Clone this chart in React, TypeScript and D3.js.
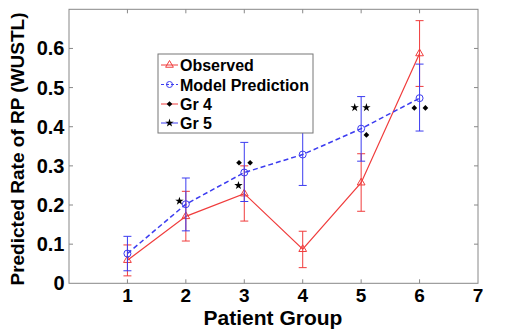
import * as d3 from "d3";

// Patient groups on the x axis
const groups = [1, 2, 3, 4, 5, 6];

// Observed rate with error bounds
const observed = [0.059, 0.171, 0.229, 0.087, 0.257, 0.587];
const observedLow = [0.019, 0.108, 0.159, 0.04, 0.184, 0.503];
const observedHigh = [0.098, 0.235, 0.3, 0.133, 0.331, 0.671];

// Model prediction with error bounds
const predicted = [0.076, 0.202, 0.283, 0.329, 0.395, 0.473];
const predictedLow = [0.032, 0.134, 0.209, 0.25, 0.312, 0.389];
const predictedHigh = [0.12, 0.269, 0.36, 0.408, 0.477, 0.56];

// significance markers
const gr4X = [2.91, 3.1, 5.09, 5.91, 6.1];
const gr4Y = [0.308, 0.308, 0.379, 0.448, 0.448];
const gr5X = [1.89, 2.9, 4.89, 5.09];
const gr5Y = [0.21, 0.25, 0.449, 0.449];

const xTicks = [1, 2, 3, 4, 5, 6, 7];
const yTicks = [0, 0.1, 0.2, 0.3, 0.4, 0.5, 0.6];
const legendLabels = ["Observed", "Model Prediction", "Gr 4", "Gr 5"];

const RED = "#f03c3c";
const BLUE = "#3c3cf0";
const FONT = "Liberation Sans, Arial, sans-serif";

const width = 505;
const height = 329;

export default function App() {
  const x = d3.scaleLinear().domain([0, 7]).range([69, 478]);
  const y = d3.scaleLinear().domain([0, 0.7]).range([283.3, 9.3]);

  const line = d3
    .line<number>()
    .x((d, i) => x(groups[i]))
    .y((d) => y(d));

  const star = d3.symbol().type(d3.symbolStar).size(22)();
  const diamond = d3.symbol().type(d3.symbolSquare).size(16)();
  const triangle = d3.symbol().type(d3.symbolTriangle).size(26)();

  const tick = 4;
  const cap = 4;

  const errorBars = (lo: number[], hi: number[], color: string) =>
    groups.map((g, i) => (
      <g key={i} stroke={color} strokeWidth={1}>
        <line x1={x(g)} x2={x(g)} y1={y(lo[i])} y2={y(hi[i])} />
        <line x1={x(g) - cap} x2={x(g) + cap} y1={y(lo[i])} y2={y(lo[i])} />
        <line x1={x(g) - cap} x2={x(g) + cap} y1={y(hi[i])} y2={y(hi[i])} />
      </g>
    ));

  const legendX = 158;
  const legendY = 54;
  const rowY = [65, 84.5, 104, 123];

  return (
    <svg
      width={width}
      height={height}
      style={{ position: "absolute", left: 0, top: 0, background: "#fff" }}
      fontFamily={FONT}
    >
      {/* axes box */}
      <rect x={69} y={9.3} width={409} height={274} fill="none" stroke="#888" strokeWidth={1} />
      {xTicks.slice(0, 6).map((t) => (
        <g key={t} stroke="#888">
          <line x1={x(t)} x2={x(t)} y1={y(0)} y2={y(0) - tick} />
          <line x1={x(t)} x2={x(t)} y1={y(0.7)} y2={y(0.7) + tick} />
        </g>
      ))}
      {yTicks.slice(1).map((t) => (
        <g key={t} stroke="#888">
          <line x1={x(0)} x2={x(0) + tick} y1={y(t)} y2={y(t)} />
          <line x1={x(7)} x2={x(7) - tick} y1={y(t)} y2={y(t)} />
        </g>
      ))}

      {/* tick labels */}
      {xTicks.map((t) => (
        <text key={t} x={x(t)} y={302} textAnchor="middle" fontSize={19} fontWeight="bold">
          {t}
        </text>
      ))}
      {yTicks.map((t) => (
        <text key={t} x={64.5} y={y(t) + 7} textAnchor="end" fontSize={20} fontWeight="bold">
          {t === 0 ? "0" : t.toFixed(1)}
        </text>
      ))}

      {/* axis titles */}
      <text x={273} y={325} textAnchor="middle" fontSize={21} fontWeight="bold">
        Patient Group
      </text>
      <text
        transform="translate(24,149) rotate(-90)"
        textAnchor="middle"
        fontSize={19}
        fontWeight="bold"
      >
        Predicted Rate of RP (WUSTL)
      </text>

      {/* observed */}
      {errorBars(observedLow, observedHigh, RED)}
      <path d={line(observed) ?? ""} fill="none" stroke={RED} strokeWidth={1.2} />
      {observed.map((v, i) => (
        <path key={i} d={triangle} transform={`translate(${x(groups[i])},${y(v)})`} fill="none" stroke={RED} />
      ))}

      {/* model prediction */}
      {errorBars(predictedLow, predictedHigh, BLUE)}
      <path d={line(predicted) ?? ""} fill="none" stroke={BLUE} strokeWidth={1.5} strokeDasharray="5,3" />
      {predicted.map((v, i) => (
        <circle key={i} cx={x(groups[i])} cy={y(v)} r={3.5} fill="none" stroke={BLUE} />
      ))}

      {/* markers */}
      {gr4X.map((gx, i) => (
        <path key={i} d={diamond} transform={`translate(${x(gx)},${y(gr4Y[i])}) rotate(45)`} fill="#000" />
      ))}
      {gr5X.map((gx, i) => (
        <path key={i} d={star} transform={`translate(${x(gx)},${y(gr5Y[i])})`} fill="#000" />
      ))}

      {/* legend */}
      <rect x={legendX} y={legendY} width={155} height={79} fill="#fff" stroke="#777" strokeWidth={1} />
      {legendLabels.map((label, i) => {
        const cy = rowY[i];
        const lineColor = i % 2 === 0 ? RED : BLUE;
        return (
          <g key={label}>
            <line
              x1={161}
              x2={178}
              y1={cy}
              y2={cy}
              stroke={lineColor}
              strokeWidth={1}
              strokeDasharray={i === 1 ? "3,2" : undefined}
            />
            {i === 0 && <path d={triangle} transform={`translate(169.5,${cy})`} fill="none" stroke={RED} />}
            {i === 1 && <circle cx={169.5} cy={cy} r={3} fill="none" stroke={BLUE} />}
            {i === 2 && <path d={diamond} transform={`translate(169.5,${cy}) rotate(45)`} fill="#000" />}
            {i === 3 && <path d={star} transform={`translate(169.5,${cy})`} fill="#000" />}
            <text x={180} y={cy + 6} fontSize={16} fontWeight="bold">
              {label}
            </text>
          </g>
        );
      })}
    </svg>
  );
}
